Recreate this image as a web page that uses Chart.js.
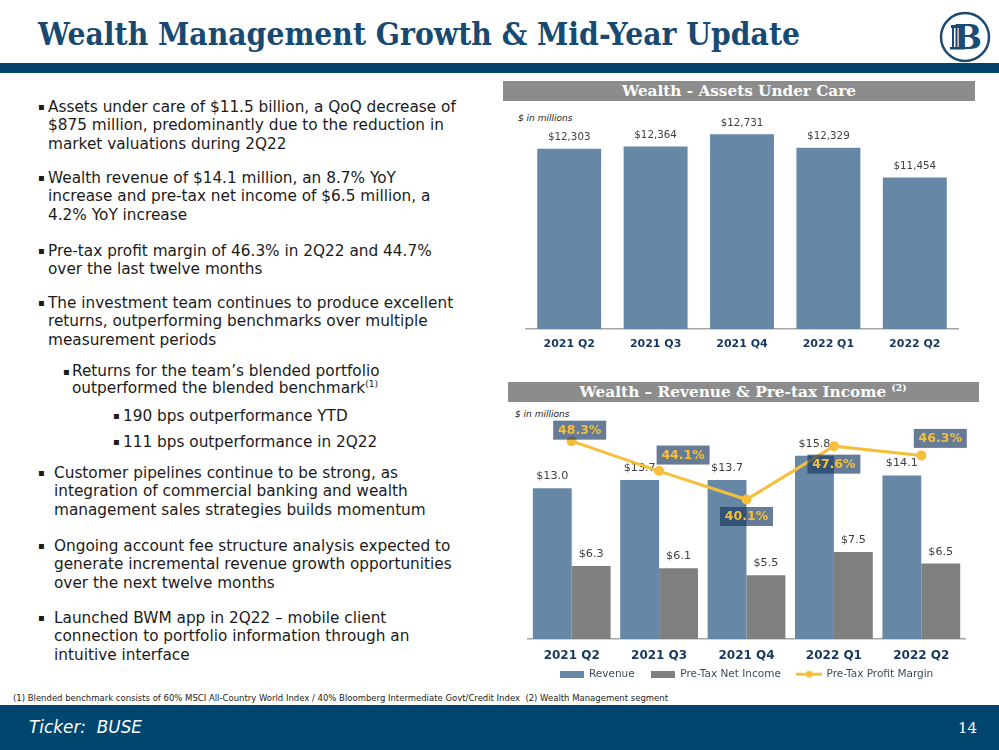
<!DOCTYPE html>
<html>
<head>
<meta charset="utf-8">
<script src="https://cdn.jsdelivr.net/npm/chart.js@4.4.0/dist/chart.umd.min.js"></script>
<style>
  body { margin: 0; width: 999px; height: 750px; position: relative; overflow: hidden; background: #fff;
         font-family: "DejaVu Sans", Verdana, sans-serif; color: #1a1a1a; }
  .abs { position: absolute; white-space: nowrap; }
  .title { left: 38px; top: 17px; font: bold 32px "DejaVu Serif", Georgia, serif; color: #174a72; line-height: 34px; transform-origin: left center; }
  .band { left: 0; top: 63px; width: 999px; height: 10px; background: #00446b; }
  .footer { left: 0; top: 705px; width: 999px; height: 45px; background: #00466e; }
  .ticker { left: 29px; top: 716px; font: italic 17px "DejaVu Sans", Verdana, sans-serif; color: #fff; line-height: 22px; transform-origin: left center; }
  .pageno { left: 958px; top: 719px; font: 15px "DejaVu Serif", Georgia, serif; color: #fff; line-height: 18px; }
  .foot { left: 13px; top: 694px; font: 8px "DejaVu Sans", Verdana, sans-serif; color: #222; line-height: 10px; transform-origin: left center; }
  .hdr { background: #8c8c8c; color: #fff; text-align: center; font: bold 15px "DejaVu Serif", Georgia, serif; line-height: 20px; height: 20px; }
  .hdr span { display: inline-block; transform-origin: center center; }
  .hdr sup { font-size: 9px; vertical-align: 6px; line-height: 0; }
  .unit { font: italic 9px "DejaVu Sans", Verdana, sans-serif; color: #222; }
  .bl { font-size: 15.3px; line-height: 18.7px; color: #1a1a1a; }
  .bl .m { position: absolute; font-size: 10px; line-height: 18.7px; }
  .bl sup { font-size: 9px; line-height: 0; vertical-align: 6px; }
  canvas { position: absolute; }
</style>
</head>
<body>
<div class="abs title" data-fit="762">Wealth Management Growth &amp; Mid-Year Update</div>
<svg class="abs" style="left:938px;top:11px" width="54" height="54" viewBox="0 0 54 54">
  <circle cx="27" cy="26" r="24" fill="none" stroke="#1b4a72" stroke-width="2.5"/>
  <text x="30" y="38" text-anchor="middle" font-family="DejaVu Serif, Georgia, serif" font-weight="bold" font-size="33" fill="#1b4a72">B</text>
  <rect x="13" y="14" width="14" height="3" fill="#1b4a72"/>
  <rect x="14" y="17" width="2" height="19" fill="#1b4a72"/>
  <rect x="17.5" y="17" width="2" height="19" fill="#1b4a72"/>
  <rect x="21" y="17" width="2" height="19" fill="#1b4a72"/>
  <rect x="12" y="36" width="15" height="2.5" fill="#1b4a72"/>
</svg>
<div class="abs band"></div>

<!-- bullets -->
<div class="abs bl" style="left:48px;top:97.6px"><span class="m" style="left:-10px">&#9642;</span>Assets under care of $11.5 billion, a QoQ decrease of<br>$875 million, predominantly due to the reduction in<br>market valuations during 2Q22</div>
<div class="abs bl" style="left:48px;top:168.6px"><span class="m" style="left:-10px">&#9642;</span>Wealth revenue of $14.1 million, an 8.7% YoY<br>increase and pre-tax net income of $6.5 million, a<br>4.2% YoY increase</div>
<div class="abs bl" style="left:48px;top:241.6px"><span class="m" style="left:-10px">&#9642;</span>Pre-tax profit margin of 46.3% in 2Q22 and 44.7%<br>over the last twelve months</div>
<div class="abs bl" style="left:48px;top:293.6px"><span class="m" style="left:-10px">&#9642;</span>The investment team continues to produce excellent<br>returns, outperforming benchmarks over multiple<br>measurement periods</div>
<div class="abs bl" style="left:72px;top:362.6px;line-height:17px"><span class="m" style="left:-9px;line-height:17px">&#9642;</span>Returns for the team’s blended portfolio<br>outperformed the blended benchmark<sup>(1)</sup></div>
<div class="abs bl" style="left:123px;top:406.6px"><span class="m" style="left:-10px">&#9642;</span>190 bps outperformance YTD</div>
<div class="abs bl" style="left:123px;top:432.6px"><span class="m" style="left:-10px">&#9642;</span>111 bps outperformance in 2Q22</div>
<div class="abs bl" style="left:54px;top:463.6px"><span class="m" style="left:-16px">&#9642;</span>Customer pipelines continue to be strong, as<br>integration of commercial banking and wealth<br>management sales strategies builds momentum</div>
<div class="abs bl" style="left:54px;top:536.6px"><span class="m" style="left:-16px">&#9642;</span>Ongoing account fee structure analysis expected to<br>generate incremental revenue growth opportunities<br>over the next twelve months</div>
<div class="abs bl" style="left:54px;top:608.6px"><span class="m" style="left:-16px">&#9642;</span>Launched BWM app in 2Q22 – mobile client<br>connection to portfolio information through an<br>intuitive interface</div>

<!-- chart headers -->
<div class="abs hdr" style="left:503px;top:81px;width:472px"><span data-fit="234">Wealth - Assets Under Care</span></div>
<div class="abs unit" style="left:518px;top:113px">$ in millions</div>
<div class="abs hdr" style="left:508px;top:382px;width:471px"><span data-fit="327">Wealth – Revenue &amp; Pre-tax Income <sup>(2)</sup></span></div>
<div class="abs unit" style="left:515px;top:409px">$ in millions</div>

<canvas id="aucChart" style="left:505px;top:100px;width:470px;height:260px" width="470" height="260"></canvas>
<canvas id="revChart" style="left:505px;top:400px;width:475px;height:290px" width="475" height="290"></canvas>

<div class="abs foot" data-fit="655">(1) Blended benchmark consists of 60% MSCI All-Country World Index / 40% Bloomberg Intermediate Govt/Credit Index&nbsp;&nbsp;(2) Wealth Management segment</div>
<div class="abs footer"></div>
<div class="abs ticker" data-fit="113">Ticker:&nbsp;&nbsp;BUSE</div>
<div class="abs pageno">14</div>

<script>
// data
const quarters = ['2021 Q2', '2021 Q3', '2021 Q4', '2022 Q1', '2022 Q2'];
const assetsUnderCare = [12303, 12364, 12731, 12329, 11454];
const revenue = [13.0, 13.7, 13.7, 15.8, 14.1];
const preTaxIncome = [6.3, 6.1, 5.5, 7.5, 6.5];
const profitMargin = [48.3, 44.1, 40.1, 47.6, 46.3];

// squeeze text blocks to the widths measured on the slide
document.querySelectorAll('[data-fit]').forEach(el => {
    const target = parseFloat(el.dataset.fit);
    const w = el.getBoundingClientRect().width;
    if (w > 0) el.style.transform = `scaleX(${target / w})`;
});

const BLUE = '#6688a6';
const GRAY = '#7f7f7f';
const GOLD = '#f5bf3a';
const AXIS_TEXT = '#17375e';
const LABEL_TEXT = '#404040';
const FONT = "'DejaVu Sans', Verdana, sans-serif";

Chart.defaults.font.family = FONT;
Chart.defaults.animation = false;

// draws value labels above bars right after each bar dataset
const barValueLabels = {
    id: 'barValueLabels',
    afterDatasetDraw(chart, args, opts) {
        const ds = chart.data.datasets[args.index];
        if (!ds.valueFormat) return;
        const ctx = chart.ctx;
        ctx.save();
        ctx.font = `${opts.size}px ${FONT}`;
        ctx.fillStyle = LABEL_TEXT;
        ctx.textAlign = 'center';
        ctx.textBaseline = 'middle';
        args.meta.data.forEach((bar, i) => {
            ctx.fillText(ds.valueFormat(ds.data[i]), bar.x, bar.y - opts.offset);
        });
        ctx.restore();
    }
};

// boxed percentage labels for the margin line
const marginOffsets = [[8, -11], [24, -16], [0, 17], [0, 18], [19, -17]];
const marginLabels = {
    id: 'marginLabels',
    afterDatasetsDraw(chart) {
        const idx = chart.data.datasets.findIndex(d => d.type === 'line');
        if (idx < 0) return;
        const meta = chart.getDatasetMeta(idx);
        const ctx = chart.ctx;
        ctx.save();
        ctx.font = `bold 12.5px ${FONT}`;
        ctx.textAlign = 'center';
        ctx.textBaseline = 'middle';
        meta.data.forEach((pt, i) => {
            const cx = pt.x + marginOffsets[i][0];
            const cy = pt.y + marginOffsets[i][1];
            ctx.fillStyle = 'rgba(23, 55, 94, 0.66)';
            ctx.fillRect(cx - 26.5, cy - 9.5, 53, 19);
            ctx.fillStyle = '#f4c03c';
            ctx.fillText(profitMargin[i].toFixed(1) + '%', cx, cy + 0.5);
        });
        ctx.restore();
    }
};

function swatch(w, h, draw) {
    const c = document.createElement('canvas');
    c.width = w;
    c.height = h;
    draw(c.getContext('2d'), w, h);
    return c;
}

// Assets under care
new Chart(document.getElementById('aucChart'), {
    type: 'bar',
    data: {
        labels: quarters,
        datasets: [{
            label: 'Assets Under Care',
            data: assetsUnderCare,
            backgroundColor: BLUE,
            barPercentage: 0.74,
            categoryPercentage: 1.0,
            valueFormat: v => '$' + v.toLocaleString('en-US')
        }]
    },
    options: {
        responsive: false,
        layout: { padding: { left: 21, right: 17, top: 8, bottom: 0 } },
        plugins: {
            legend: { display: false },
            tooltip: { enabled: false },
            barValueLabels: { size: 10.3, offset: 11 }
        },
        scales: {
            x: {
                grid: { display: false, drawTicks: false },
                border: { display: true, color: '#a6a6a6', width: 1.5 },
                ticks: { color: AXIS_TEXT, font: { size: 11, weight: 'bold' }, padding: 9 },
                afterFit: s => { s.height = 31; }
            },
            y: { display: false, min: 7000, max: 13500 }
        }
    },
    plugins: [barValueLabels]
});

// Revenue & pre-tax income
const legendImages = [
    swatch(24, 7, (c, w, h) => { c.fillStyle = BLUE; c.fillRect(0, 0, w, h); }),
    swatch(24, 7, (c, w, h) => { c.fillStyle = GRAY; c.fillRect(0, 0, w, h); }),
    swatch(26, 9, (c, w, h) => {
        c.fillStyle = GOLD;
        c.fillRect(0, 3, w, 3);
        c.beginPath();
        c.arc(w / 2, h / 2, 3.6, 0, Math.PI * 2);
        c.fill();
    })
];
// trailing gap after each legend text
const legendGap = ['    ', '    ', ''];

new Chart(document.getElementById('revChart'), {
    data: {
        labels: quarters,
        datasets: [{
            type: 'bar',
            label: 'Revenue',
            data: revenue,
            backgroundColor: BLUE,
            order: 1,
            barPercentage: 1.0,
            categoryPercentage: 0.89,
            valueFormat: v => '$' + v.toFixed(1)
        }, {
            type: 'bar',
            label: 'Pre-Tax Net Income',
            data: preTaxIncome,
            backgroundColor: GRAY,
            order: 1,
            barPercentage: 1.0,
            categoryPercentage: 0.89,
            valueFormat: v => '$' + v.toFixed(1)
        }, {
            type: 'line',
            label: 'Pre-Tax Profit Margin',
            data: profitMargin,
            yAxisID: 'y2',
            order: 0,
            borderColor: GOLD,
            backgroundColor: GOLD,
            borderWidth: 3,
            pointRadius: 5,
            pointBackgroundColor: GOLD,
            pointBorderWidth: 0,
            tension: 0
        }]
    },
    options: {
        responsive: false,
        layout: { padding: { left: 23, right: 15, top: 7, bottom: 0.5 } },
        plugins: {
            tooltip: { enabled: false },
            barValueLabels: { size: 11.2, offset: 12 },
            legend: {
                position: 'bottom',
                labels: {
                    color: '#3d4b5a',
                    font: { size: 10.5 },
                    usePointStyle: true,
                    pointStyleWidth: 24,
                    boxHeight: 7,
                    padding: 3,
                    generateLabels: chart => [0, 1, 2].map(i => ({
                        text: chart.data.datasets[i].label + legendGap[i],
                        pointStyle: legendImages[i],
                        fillStyle: 'transparent',
                        strokeStyle: 'transparent',
                        lineWidth: 0,
                        fontColor: '#3d4b5a',
                        hidden: false,
                        datasetIndex: i
                    }))
                }
            }
        },
        scales: {
            x: {
                grid: { display: false, drawTicks: false },
                border: { display: true, color: '#a6a6a6', width: 1.5 },
                ticks: { color: AXIS_TEXT, font: { size: 12, weight: 'bold' }, padding: 10 },
                afterFit: s => { s.height = 27; }
            },
            y: { display: false, min: 0, max: 20 },
            y2: { display: false, position: 'right', min: 20.5, max: 53.1 }
        }
    },
    plugins: [barValueLabels, marginLabels]
});
</script>
</body>
</html>
